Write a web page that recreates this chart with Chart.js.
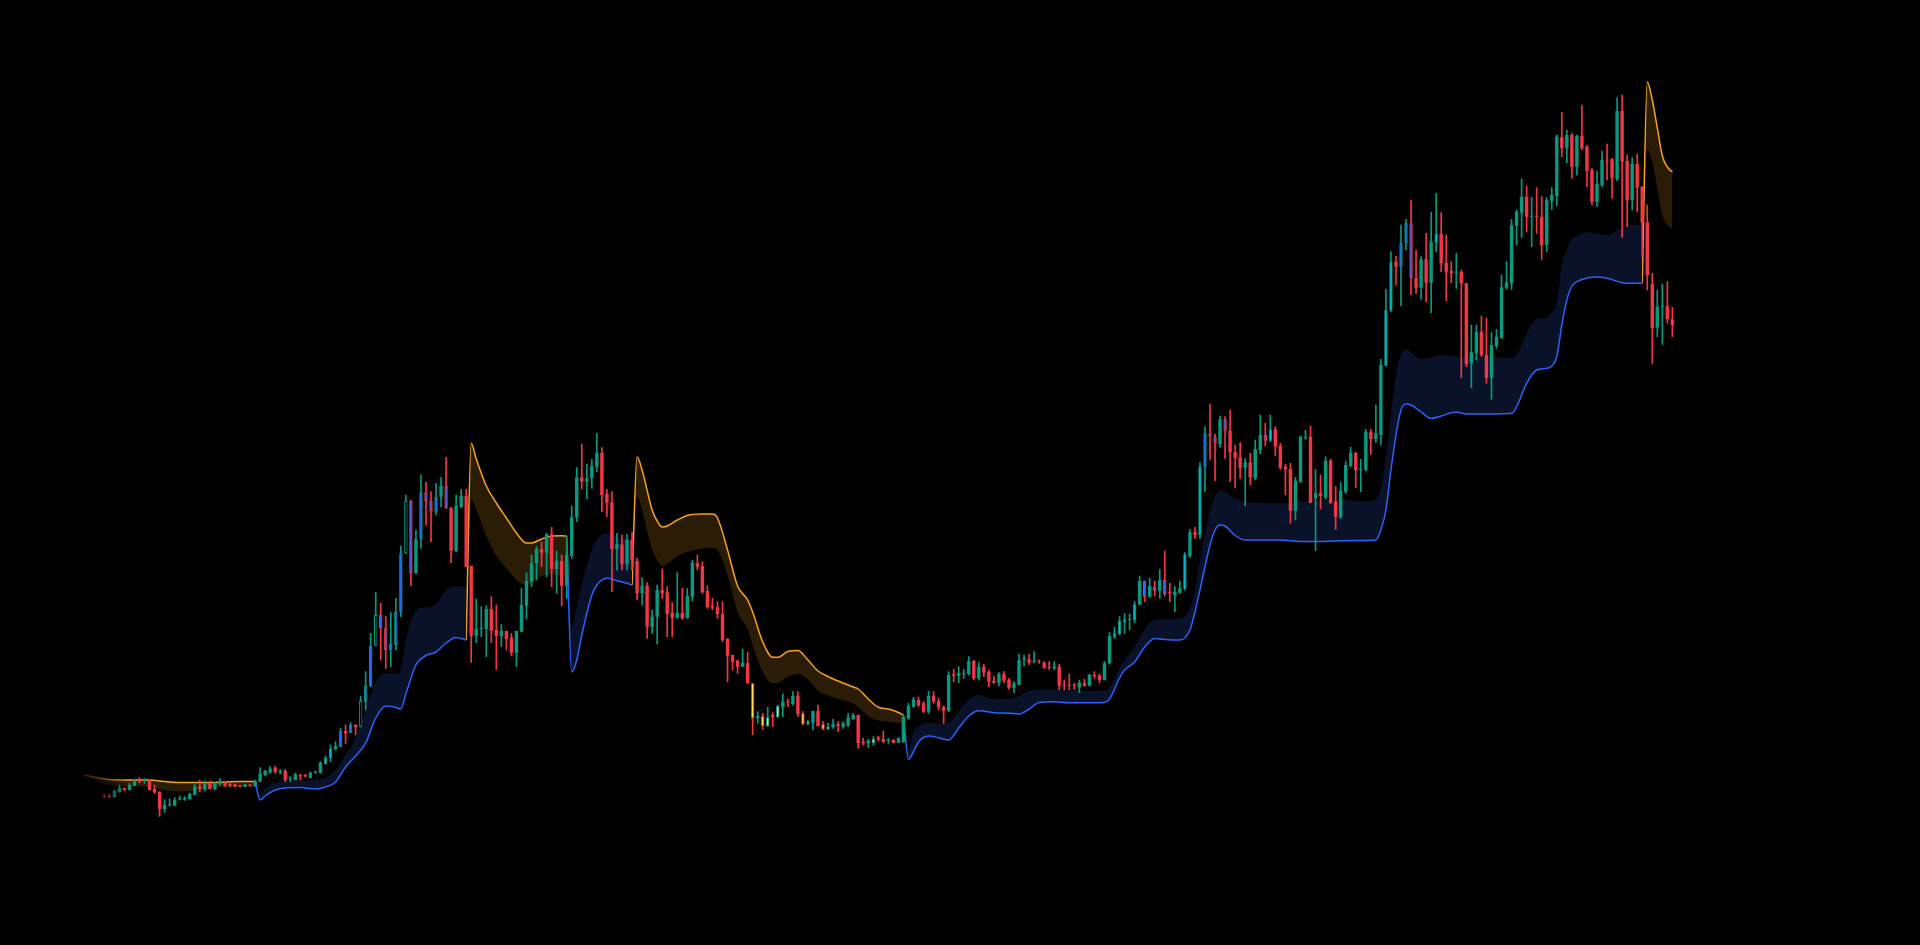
<!DOCTYPE html>
<html>
<head>
<meta charset="utf-8">
<title>Candles</title>
<script src="https://cdn.jsdelivr.net/npm/chart.js@4.4.1/dist/chart.umd.min.js"></script>
<style>
  html, body { margin: 0; padding: 0; background: #000; }
  .wrap { width: 1920px; height: 945px; position: relative; }
</style>
</head>
<body>
<div class="wrap"><canvas id="myChart"></canvas></div>
<script>
// empty slots left of the first candle (the first band starts there)
const lead = 4;

const opens = [
    204, 204, 203, 208, 212, 210, 214.5, 220, 219, 219,
    211, 208, 191, 194.5, 194.5, 200.5, 200.5, 201, 205, 213.5,
    211, 217, 211, 215.5, 217.5, 216, 215.5, 214.5, 213.5, 215,
    214.5, 218.5, 225, 227.5, 232.3, 228, 229, 220.7, 220, 225,
    225, 222.3, 227.3, 227.3, 236, 241.7, 251, 253.3, 269, 267.3,
    275, 273.3, 298.3, 314.3, 354.3, 385, 371.7, 350, 355, 388.3,
    446.7, 499, 426.7, 460.7, 507.7, 499, 488.3, 503.3, 514, 492.3,
    449, 492.7, 504, 434, 364.3, 371, 371, 391, 370, 364,
    369, 362.3, 347.3, 368.3, 394.3, 418.3, 436.7, 451, 447.3, 465.7,
    431, 439, 414.3, 444.3, 482.7, 522.7, 518.3, 521.7, 533.3, 547.3,
    506, 497.7, 451, 455.7, 435.7, 460, 439, 406.7, 414.3, 373.3,
    383.3, 410, 407.7, 387.3, 382.3, 387.3, 382.3, 403.3, 436.7, 434,
    409, 394.3, 392.7, 386, 361, 345, 339.3, 333.3, 336.7, 316.7,
    281.7, 284, 274, 285, 282.7, 293.3, 298.3, 296, 304, 286.7,
    275.7, 277.3, 289, 275.7, 270.7, 272.7, 275.7, 273.3, 274.3, 281,
    285, 258.3, 256.7, 256.7, 262.3, 261, 259, 260, 257.3, 258,
    281.7, 293.3, 300, 296.7, 288.3, 304, 299, 293.3, 289.3, 325.7,
    324.3, 325.7, 326, 339, 321.7, 333.3, 328.3, 319.3, 317.3, 326,
    320, 312.3, 315, 340.7, 340.7, 338.3, 339, 337.3, 333.3, 331.7,
    333.3, 315, 315, 315, 312.7, 316.7, 314.3, 325, 324.3, 320,
    336.7, 363.3, 366, 378.3, 380.3, 380, 395.7, 419, 403.3, 413.3,
    409.3, 420, 407.3, 405, 407.3, 410.7, 444, 467.7, 465, 532.7,
    566.7, 563.3, 556, 580.7, 569.3, 547.7, 542.7, 532.3, 537.7, 521.7,
    550, 565, 559.3, 570.7, 554, 533.3, 531, 489.3, 518.3, 561.7,
    563.3, 501.7, 506.7, 502.7, 539.3, 498.3, 482.7, 508.3, 534, 547.3,
    530, 530, 568.3, 561, 565, 634.3, 689.3, 738.3, 733.3, 756.7,
    776.7, 721.7, 712.3, 740.7, 717.3, 757.3, 766, 737.3, 729.3, 727.3,
    728, 716.7, 636.7, 646.7, 668.3, 645, 622.3, 654, 662.3, 712.3,
    716.7, 774.3, 787.3, 803.3, 783.3, 784.3, 783.3, 755, 799.3, 804,
    862.7, 851.7, 865, 833.3, 864, 853.3, 830, 798.3, 815, 840,
    840.7, 821, 889, 839, 800, 836, 813.3, 777.7, 716, 672.3,
    693.3, 694, 680.7
];
const highs = [
    206, 206, 210, 215, 212.5, 217, 221, 222.5, 221.5, 220,
    215, 208.5, 200.5, 201, 202.5, 204, 203.5, 207, 215.5, 220,
    219, 219, 217.5, 221.5, 219, 216.7, 216, 215, 216, 215.3,
    220, 232.5, 230, 233.5, 234, 230.7, 230.7, 223.3, 226.7, 225.7,
    225.7, 228, 229, 238.3, 244, 255, 258.3, 271.7, 275, 277.3,
    275.5, 304, 328.3, 366.7, 407.7, 396.7, 383.3, 387.3, 401.7, 454,
    505, 500, 470, 525, 517.7, 508.3, 516.7, 522.7, 542.7, 492.3,
    505, 510.7, 510.7, 434, 401, 393.3, 394.3, 403.3, 395, 375.7,
    369, 366.7, 369, 411.7, 427.3, 445, 453.3, 457.7, 466.7, 472.7,
    449, 445, 463.3, 494, 532.3, 556, 535.7, 540.7, 566.7, 552.3,
    510.7, 508.3, 466.7, 465, 465.7, 467.7, 441.7, 422.3, 417.3, 390,
    415, 431, 413.3, 397.3, 427.3, 411.7, 411.7, 440, 445, 438.3,
    414.3, 401.7, 398.3, 398.3, 361.7, 345, 340, 350.7, 347.7, 316.7,
    288.3, 286.7, 292.7, 287.3, 295, 306, 300.7, 308.3, 308.3, 288.3,
    280, 289, 295, 278.3, 276.7, 280.7, 278.3, 278.3, 286.7, 286.7,
    285, 261.7, 260.7, 263.3, 264, 269, 261.7, 260.5, 262.3, 283.5,
    296.7, 302.7, 302.7, 298.3, 309, 308.3, 301.7, 294, 328.3, 330.7,
    333.3, 330.7, 343.3, 340, 337.3, 335.7, 330, 324, 327.3, 328.3,
    321.7, 318.3, 346, 345, 346, 348.3, 340, 338.3, 338.3, 338.3,
    335.7, 320, 326, 316.7, 320, 320.7, 326, 328.3, 326, 338.3,
    367.3, 372.7, 383.3, 386.7, 386, 398.3, 424, 419, 421.7, 419,
    430.7, 449, 416.7, 413.3, 419, 447.3, 470.7, 472.7, 537.3, 573.3,
    596, 565.7, 584, 583.3, 590, 555, 557.3, 541.7, 546.7, 560,
    585, 576.7, 585, 573.3, 556.7, 536, 536.7, 522.7, 564, 570,
    574, 530.7, 525, 543.3, 540.7, 513.3, 517.3, 539, 552.7, 547.3,
    540.7, 570.7, 570.7, 595, 640.7, 710.7, 748.3, 744, 775, 780.7,
    800, 750, 743.3, 766.7, 787.7, 806.7, 787.3, 765, 738.3, 746.7,
    730, 716.7, 675, 675, 684, 681.7, 667.3, 670.7, 725, 738.3,
    780.7, 790, 821, 814, 802.7, 812.3, 803.3, 802.3, 812.3, 865,
    887.3, 870, 866.7, 865, 895, 855, 831.7, 829, 849, 856,
    841.7, 902.3, 905, 845, 842.3, 846, 813.3, 795, 726.7, 710,
    716, 718.3, 692.7
];
const lows = [
    202, 202, 202.7, 207.5, 209, 210, 214, 217, 216.5, 210,
    206.5, 183.5, 187.5, 194, 194, 200, 199.5, 201, 205, 208,
    209, 211, 210, 215, 213.5, 213.3, 213, 213, 213, 214,
    213.5, 218, 224, 226.5, 226.7, 226, 218.3, 218.3, 220, 220,
    223, 222, 226.7, 226.7, 236, 238.3, 250, 253.3, 256.7, 267.3,
    265, 273, 290, 313.3, 354.3, 340, 331.7, 333.3, 350, 383.3,
    446.7, 414.3, 426.7, 451.7, 475, 458.3, 485, 493.3, 491.7, 437.3,
    448.3, 492.7, 433.3, 337.7, 357.3, 363.3, 343.3, 357.3, 330.7, 353.3,
    350, 344, 333.3, 368.3, 381, 413.3, 420, 433.3, 423.3, 413.3,
    406.7, 394.3, 401.7, 441.7, 478.3, 511, 501, 511.7, 528.3, 488.3,
    483.3, 408.3, 430, 430, 430, 430, 400, 395, 361.7, 366.7,
    356, 401.7, 363.3, 363.3, 381.7, 380.7, 381.7, 399, 430, 406.7,
    391.7, 390, 381.7, 358.3, 318.3, 330, 326.7, 333.3, 316.7, 265,
    276.7, 270.7, 273.3, 273.3, 282.3, 283.3, 293.3, 295, 283.3, 275,
    275, 270, 274, 270, 270, 271.7, 268.3, 271.7, 273.3, 280.7,
    251.7, 255, 252.3, 255, 259.3, 257.3, 256.7, 257, 257.3, 257.5,
    280.7, 292.7, 293.3, 287.3, 286.7, 296.7, 290, 276.7, 288.3, 318.3,
    317.3, 321.7, 325, 320, 320, 323.3, 313.3, 316.7, 314, 317.3,
    310.7, 307.3, 315, 334, 335.7, 337.3, 336.7, 331.7, 330.7, 330,
    310, 310, 310, 310.7, 307.3, 314, 314, 321.7, 317.3, 320,
    336, 361.7, 365, 366.7, 370, 377.3, 395, 398.3, 402.7, 404,
    401.7, 404, 398.3, 388.3, 406.7, 410, 442.3, 461.7, 461.7, 508.3,
    540.7, 519.3, 552.7, 541.7, 518.3, 512.7, 521.7, 494.3, 515, 520,
    546, 554, 558.3, 544, 530.7, 505, 476.7, 480, 517.3, 560.7,
    497.3, 449.3, 491, 500.7, 496.7, 470.7, 481.7, 506.7, 533.3, 512.3,
    508.3, 529, 545.7, 557.3, 555, 634, 688.3, 715, 694, 750,
    705, 706.7, 700.7, 698.3, 687.3, 748.3, 728.3, 699.3, 717.3, 711.7,
    622.3, 633.3, 612.3, 640, 643.3, 616.7, 600.7, 651.7, 661.7, 710.7,
    710.7, 755, 762.7, 768.3, 753.3, 766.7, 740.7, 748.3, 790.7, 794.3,
    843.3, 837.3, 821.7, 825, 850, 813.3, 795, 793.3, 813.3, 820,
    801.7, 819.3, 762.7, 773.3, 790, 788.3, 743.3, 710, 636.7, 663.3,
    655.7, 676.7, 663.3
];
const closes = [
    203, 203, 209, 212, 210, 215, 220, 218.5, 220, 210,
    207.5, 191, 195, 195.5, 200, 201.5, 202, 206, 213.5, 211,
    217, 211, 216.5, 219, 214.5, 214.5, 213.5, 213.5, 215.5, 214.5,
    219, 226.5, 229, 231.5, 228.3, 229, 220, 221.7, 225.7, 224.3,
    223.5, 227.3, 228.3, 237.3, 242.3, 251.7, 254, 269, 266.7, 275,
    272.7, 299, 314.3, 354.3, 385, 371.7, 350, 356, 388.3, 446.7,
    499, 426.7, 460.7, 507.7, 498.3, 489, 503.3, 514, 491.7, 449.3,
    494, 504, 433.3, 364.3, 371, 372, 391, 369.3, 364, 369,
    361, 347.3, 369, 395, 419, 436.7, 451, 447.3, 465.7, 431,
    439, 414.3, 445, 482.7, 522.7, 518.3, 521.7, 534, 547.3, 505,
    497.3, 451, 455.7, 435.7, 460, 440, 406.7, 414.3, 373.3, 383.3,
    410, 406.7, 386, 382.3, 387.3, 381.7, 404, 437.3, 433.3, 407.7,
    392.7, 392.7, 386, 360, 344.3, 338.3, 333.3, 337.3, 316.7, 281.7,
    284, 274, 282.7, 283.3, 294, 298.3, 297.3, 304, 286, 275.7,
    278.3, 289, 274, 270.7, 273.3, 275.7, 274, 276.7, 282.3, 285,
    256.7, 256.7, 259.3, 261, 260.7, 258.3, 260, 257.3, 261.7, 283.3,
    294, 300.7, 295, 288.3, 304, 298.3, 292.7, 289.3, 325, 324.3,
    326.7, 326.7, 339, 321.7, 333.3, 327.3, 318.3, 317.3, 326, 319.3,
    312.3, 316.7, 340, 341.7, 337.3, 339, 338.3, 332.3, 332.3, 333.3,
    314.3, 314.3, 314.3, 314.3, 317.3, 314, 325, 324, 320, 336.7,
    364, 366.7, 379, 380.7, 380.9, 395.7, 419, 403.3, 414, 409.3,
    420, 406, 406.7, 408.3, 411.7, 445.7, 467.7, 465, 533.3, 566.7,
    563.3, 556.7, 580.7, 569.3, 547.7, 542.3, 532.3, 537.7, 522.7, 550.7,
    565, 559.3, 570.7, 553.3, 532.3, 530.7, 489.3, 519.3, 563.3, 562.7,
    497.3, 506.7, 504, 539.3, 497.3, 483.3, 509.3, 535, 547.3, 530,
    531, 568.3, 561, 566.7, 635, 690, 738.3, 733.3, 757.3, 776.7,
    721.7, 711.7, 740.7, 717.3, 758.3, 766, 736.7, 728.3, 726.7, 728,
    716.7, 636, 647.7, 668.3, 645, 622.3, 655, 663.3, 712.7, 717.3,
    775, 788.3, 803.3, 783.3, 784.3, 783.3, 755, 800, 805, 863.3,
    851.7, 865, 833.3, 864, 851.7, 829.3, 798.3, 816, 840, 839.3,
    821.7, 889, 838.3, 800, 836, 812.3, 777.3, 725, 672.3, 693.3,
    694, 680.7, 675
];

// candles whose body is painted in a highlight colour
const blueBodies = [47, 49, 52, 53, 55, 56, 57, 58, 59, 61, 63, 64, 65, 66, 68,
    207, 209, 211, 219, 220, 221, 223, 231, 258, 259, 260];
const cyanBodies = [44, 45, 201, 202, 203, 205, 215, 218, 232, 255, 256, 265];
const yellowBodies = [129, 130, 131, 132, 134, 139, 140, 143, 144, 153];
const hollowBodies = [51, 54, 60];

// trend bands: [candle index, trend line, inner edge of the band]
const bear1 = [[-4, 225, 225], [-2, 223, 220], [0, 221, 216], [3, 220, 214], [6, 220, 213.5], [9, 220, 213],
    [11, 219, 211], [13, 218, 209], [16, 217.5, 208.5], [20, 217.5, 211], [24, 218, 213], [27, 218.5, 213], [30, 218.5, 213]];
const bull1 = [[30, 218.5, 218.5], [31, 200, 204], [32, 204, 211], [34, 210, 217], [36, 212, 218.5], [39, 212.5, 219],
    [42, 211, 220], [44, 213, 222], [46, 218, 230], [48, 233, 245], [50, 244, 262], [52, 257, 290], [54, 282, 318],
    [56, 294, 326.5], [58, 292.5, 326.5], [59, 291, 331], [60, 306, 360], [62, 335, 389], [64, 344.5, 392.5],
    [66, 348, 396], [68, 357, 410], [70, 362.5, 414], [72, 360, 413]];
const bear2 = [[72, 360, 360], [73, 556.7, 500], [74, 541, 490], [76, 514, 464], [78, 497, 444], [80, 482, 432],
    [82, 467, 420], [84, 457, 415], [85, 457, 417], [87, 461, 424], [89, 464, 425.5], [91, 464.3, 425], [92, 464, 425]];
const bull2 = [[92, 464, 464], [93, 328, 373], [94, 340, 393], [95, 365, 415], [97, 405, 450], [98, 415, 460],
    [100, 421.7, 466.7], [102, 419.3, 463.3], [104, 416.7, 461.7], [105, 415, 460]];
const bear3 = [[105, 415, 415], [106, 543, 503], [107, 530, 490], [109, 490, 450], [110, 479, 440], [111, 473, 434],
    [112, 474, 436], [114, 480, 444], [116, 484.5, 448], [119, 486, 451.5], [121, 486, 452], [122, 482, 450],
    [124, 450, 425], [126, 414, 388], [128, 400, 371], [129, 388, 355], [131, 358, 328], [133, 342.7, 316.7],
    [134, 342.7, 317], [136, 348.5, 323.5], [138, 349.5, 326], [140, 340, 320.5], [142, 329, 309.5],
    [144, 323.5, 304.5], [146, 319, 301], [149, 313, 296.5], [150, 311, 293], [152, 301, 284], [154, 292.7, 279.5],
    [156, 291, 278.5], [158, 287.5, 277], [159, 285, 276.5]];
const bull3 = [[159, 285, 285], [160, 240.7, 250], [161, 248.3, 268], [162, 258, 274], [164, 264, 277.3],
    [166, 262.3, 276.7], [168, 260, 277], [170, 272, 289], [172, 284, 300.5], [174, 289.3, 305], [177, 287.3, 301],
    [180, 286.7, 301], [182, 286, 304], [184, 291, 309], [186, 297.5, 310.5], [189, 298.3, 310.5], [192, 297.3, 309.5],
    [196, 297.3, 309], [199, 297.5, 309.5], [200, 301, 312.5], [202, 322, 332], [203, 330, 340], [205, 338, 353],
    [207, 353, 371], [209, 361.5, 380], [211, 360.5, 380.7], [214, 360, 381.7], [216, 370, 392], [217, 388, 410],
    [218, 410, 440], [219, 433.3, 466.7], [220, 455, 490], [221, 470, 503], [222, 475, 509.3], [223, 474, 508.5],
    [225, 464.5, 501.5], [227, 460, 498], [230, 460, 497], [234, 460, 496.7], [238, 458.5, 498], [242, 458.5, 499],
    [246, 459.3, 500], [250, 459.5, 498.5], [253, 460, 500], [254, 470, 512], [255, 490, 540], [256, 530, 585],
    [257, 565, 625], [258, 590, 645], [259, 596, 650.7], [260, 595, 648], [262, 588, 640.7], [264, 581.5, 642.7],
    [266, 584, 645], [269, 588, 643.3], [271, 586, 643], [276, 586, 643.3], [280, 586.7, 641.7], [281, 593.3, 645],
    [283, 616.7, 666.7], [285, 630, 680.7], [287, 631.7, 682.5], [288, 634, 688], [289, 643.3, 697], [290, 675, 735],
    [291, 700, 750], [292, 714, 761], [293, 718.3, 764], [295, 722, 768], [297, 723, 766.7], [299, 721.7, 765],
    [302, 717.3, 772], [304, 716.7, 775], [306, 716.7, 775]];
const bear4 = [[306, 716.7, 716.7], [307, 918, 850], [308, 900, 838], [309, 872, 812], [310, 844, 785],
    [311, 833, 775], [312, 828, 771.7]];

const UP = '#089981';
const DOWN = '#f23645';
const BEAR_LINE = '#f9a11b';
const BEAR_AREA = '#2b1d05';
const BULL_LINE = '#2962ff';
const BULL_AREA = '#0a1229';

const labels = [];
for (let k = -lead; k < opens.length; k++) labels.push(k);

const pad = new Array(lead).fill(null);
const wicks = pad.concat(opens.map((o, i) => [lows[i], highs[i]]));
const bodies = pad.concat(opens.map((o, i) => [o, closes[i]]));
const dirColors = pad.concat(opens.map((o, i) => closes[i] >= o ? UP : DOWN));

const bodyColors = dirColors.map((c, k) => {
    const i = k - lead;
    if (blueBodies.includes(i)) return '#2962ff';
    if (cyanBodies.includes(i)) return '#00bcd4';
    if (yellowBodies.includes(i)) return '#ffe24a';
    if (hollowBodies.includes(i)) return '#000000';
    return c;
});
const bodyBorders = dirColors.map((c, k) => {
    const i = k - lead;
    return (blueBodies.includes(i) || cyanBodies.includes(i) || yellowBodies.includes(i) || hollowBodies.includes(i)) ? 1 : 0;
});

function band(points, lineColor, areaColor) {
    return [
        {
            type: 'line',
            data: points.map(p => ({ x: p[0], y: p[2] })),
            borderWidth: 0,
            borderColor: 'transparent',
            pointRadius: 0,
            fill: false,
            cubicInterpolationMode: 'monotone',
            order: 3
        },
        {
            type: 'line',
            data: points.map(p => ({ x: p[0], y: p[1] })),
            borderColor: lineColor,
            borderWidth: 1.5,
            pointRadius: 0,
            fill: '-1',
            backgroundColor: areaColor,
            cubicInterpolationMode: 'monotone',
            order: 2
        }
    ];
}

const datasets = [].concat(
    band(bear1, BEAR_LINE, BEAR_AREA),
    band(bull1, BULL_LINE, BULL_AREA),
    band(bear2, BEAR_LINE, BEAR_AREA),
    band(bull2, BULL_LINE, BULL_AREA),
    band(bear3, BEAR_LINE, BEAR_AREA),
    band(bull3, BULL_LINE, BULL_AREA),
    band(bear4, BEAR_LINE, BEAR_AREA)
);

datasets.push({
    type: 'bar',
    data: wicks,
    backgroundColor: dirColors,
    barThickness: 1,
    grouped: false,
    order: 1
});
datasets.push({
    type: 'bar',
    data: bodies,
    backgroundColor: bodyColors,
    borderColor: dirColors,
    borderWidth: bodyBorders,
    borderSkipped: false,
    barPercentage: 0.68,
    categoryPercentage: 1,
    minBarLength: 1,
    grouped: false,
    order: 0
});

// the series fades out at its left end
const leftFade = {
    id: 'leftFade',
    afterDatasetsDraw(chart) {
        const ctx = chart.ctx;
        const g = ctx.createLinearGradient(60, 0, 130, 0);
        g.addColorStop(0, 'rgba(0,0,0,1)');
        g.addColorStop(0.5, 'rgba(0,0,0,0.7)');
        g.addColorStop(1, 'rgba(0,0,0,0)');
        ctx.save();
        ctx.fillStyle = g;
        ctx.fillRect(0, 0, 130, chart.height);
        ctx.restore();
    }
};

const config = {
    type: 'bar',
    data: {
        labels: labels,
        datasets: datasets
    },
    options: {
        responsive: true,
        maintainAspectRatio: false,
        animation: false,
        events: [],
        layout: {
            padding: { left: 81.7, right: 245.1, top: 0, bottom: 0 }
        },
        plugins: {
            legend: { display: false },
            tooltip: { enabled: false }
        },
        scales: {
            x: { display: false, offset: true },
            y: { display: false, min: 55, max: 1000 }
        }
    },
    plugins: [leftFade]
};

const myChart = new Chart(
    document.getElementById('myChart'),
    config
);
</script>
</body>
</html>
